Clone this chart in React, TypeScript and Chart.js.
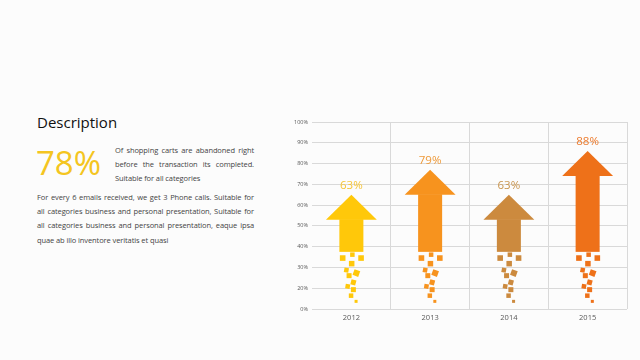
import React, { useEffect, useRef } from 'react';
import { Chart, registerables } from 'chart.js';
Chart.register(...registerables);

const years = ['2012', '2013', '2014', '2015'];
const valueLabels = ['63%', '79%', '63%', '88%'];
const arrowTips = [65, 77, 65, 86];
const arrowBase = 37.5;
const headLength = 12;
const arrowColors = ['#FFC80A', '#F7931E', '#CC8A3E', '#EE7119'];
const labelColors = ['#F6C536', '#EE9A3A', '#C9954E', '#EC7A2C'];
const yTickValues = [10, 20, 30, 40, 50, 60, 70, 80, 90, 100];
const yTickLabels = ['0%', '20%', '30%', '40%', '50%', '60%', '70%', '80%', '90%', '100%'];

const introLines = [
  'Of shopping carts are abandoned right',
  'before the transaction its completed.',
  'Suitable for all categories',
];
const bodyLines = [
  'For every 6 emails received, we get 3 Phone calls. Suitable for',
  'all categories business and personal presentation, Suitable for',
  'all categories business and personal presentation, eaque ipsa',
  'quae ab illo inventore veritatis et quasi',
];

// decorative particle pattern under each arrow: [dx px, dy px, size px, rotation deg]
const PARTICLES: number[][] = [
  [-8.7, 6.2, 5.6, 0],
  [1, 2.8, 4.5, 0],
  [9.7, 6.2, 5.6, 0],
  [0.3, 11.8, 5.5, 0],
  [-5, 18.2, 4.5, 10],
  [5, 21.2, 6, 20],
  [-2.3, 23.8, 5, 0],
  [2, 30.5, 5, 15],
  [-3.7, 34.5, 4.5, 10],
  [2, 37.8, 5, 0],
  [-0.3, 43.8, 4.5, 0],
  [4.7, 49.5, 3, 0],
];

const arrowPlugin = {
  id: 'arrows',
  afterDatasetsDraw(chart: any) {
    const meta = chart.getDatasetMeta(0);
    const y = chart.scales.y;
    const ctx = chart.ctx;
    meta.data.forEach((bar: any, i: number) => {
      const { x, width } = bar.getProps(['x', 'width'], true);
      const tipY = y.getPixelForValue(arrowTips[i]);
      const headY = y.getPixelForValue(arrowTips[i] - headLength);
      const baseY = y.getPixelForValue(arrowBase);
      const headHalf = width * 1.06;
      ctx.save();
      ctx.fillStyle = arrowColors[i];
      ctx.fillRect(x - width / 2, headY - 0.5, width, baseY - headY + 0.5);
      ctx.beginPath();
      ctx.moveTo(x - headHalf, headY);
      ctx.lineTo(x, tipY);
      ctx.lineTo(x + headHalf, headY);
      ctx.closePath();
      ctx.fill();
      PARTICLES.forEach(([dx, dy, s, r]) => {
        ctx.save();
        ctx.translate(x + dx, baseY + dy);
        ctx.rotate((r * Math.PI) / 180);
        ctx.fillRect(-s / 2, -s / 2, s, s);
        ctx.restore();
      });
      ctx.fillStyle = labelColors[i];
      ctx.font = '11.5px "Open Sans"';
      ctx.textAlign = 'center';
      ctx.textBaseline = 'middle';
      ctx.fillText(valueLabels[i], x, tipY - 9);
      ctx.restore();
    });
  },
};

function Para({ lines, left, top, width }: { lines: string[]; left: number; top: number; width: number }) {
  return (
    <div style={{ position: 'absolute', left, top, width, fontSize: 7.5, lineHeight: '14.2px', color: '#444', letterSpacing: '-0.1px' }}>
      {lines.map((l, i) => (
        <div
          key={i}
          style={{
            whiteSpace: 'nowrap',
            textAlign: 'justify',
            textAlignLast: i < lines.length - 1 ? 'justify' : 'left',
          } as React.CSSProperties}
        >
          {l}
        </div>
      ))}
    </div>
  );
}

export default function App() {
  const ref = useRef<HTMLCanvasElement>(null);
  useEffect(() => {
    const chart = new Chart(ref.current!, {
      type: 'bar',
      data: {
        labels: years,
        datasets: [
          {
            data: arrowTips,
            base: arrowBase,
            backgroundColor: 'rgba(0,0,0,0)',
            barPercentage: 0.305,
            categoryPercentage: 1,
          } as any,
        ],
      },
      options: {
        responsive: false,
        animation: false,
        layout: { padding: { top: 10, right: 8, left: 0, bottom: 0 } },
        plugins: { legend: { display: false }, tooltip: { enabled: false } },
        scales: {
          x: {
            grid: {
              offset: true,
              drawTicks: false,
              color: (c: any) => (c.index === 0 || c.index === years.length ? 'rgba(0,0,0,0)' : '#D9D9D9'),
            },
            border: { display: false },
            ticks: { color: '#595959', font: { family: '"Open Sans"', size: 7.5 }, padding: 4 },
            afterFit: (s: any) => { s.height = 19; },
          },
          y: {
            min: 10,
            max: 100,
            grid: { drawTicks: false, color: '#D9D9D9' },
            border: { display: false },
            afterBuildTicks: (s: any) => { s.ticks = yTickValues.map((v) => ({ value: v })); },
            ticks: {
              color: '#595959',
              font: { family: '"Open Sans"', size: 5.5 },
              padding: 4,
              callback: (_v: any, i: number) => yTickLabels[i],
            },
            afterFit: (s: any) => { s.width = 27; },
          },
        },
      },
      plugins: [arrowPlugin],
    });
    return () => chart.destroy();
  }, []);

  return (
    <div
      style={{
        position: 'absolute',
        left: 0,
        top: 0,
        width: 640,
        height: 360,
        background: '#FCFCFC',
        overflow: 'hidden',
        fontFamily: '"Open Sans", sans-serif',
      }}
    >
      <div style={{ position: 'absolute', left: 37, top: 111, fontSize: 15, lineHeight: '22px', color: '#111' }}>
        Description
      </div>
      <div style={{ position: 'absolute', left: 36, top: 141, fontSize: 33, lineHeight: '44px', color: '#F4C520' }}>
        78%
      </div>
      <Para lines={introLines} left={115} top={143} width={139} />
      <Para lines={bodyLines} left={37} top={190} width={217} />
      <canvas ref={ref} width={350} height={216} style={{ position: 'absolute', left: 285, top: 112 }} />
    </div>
  );
}
